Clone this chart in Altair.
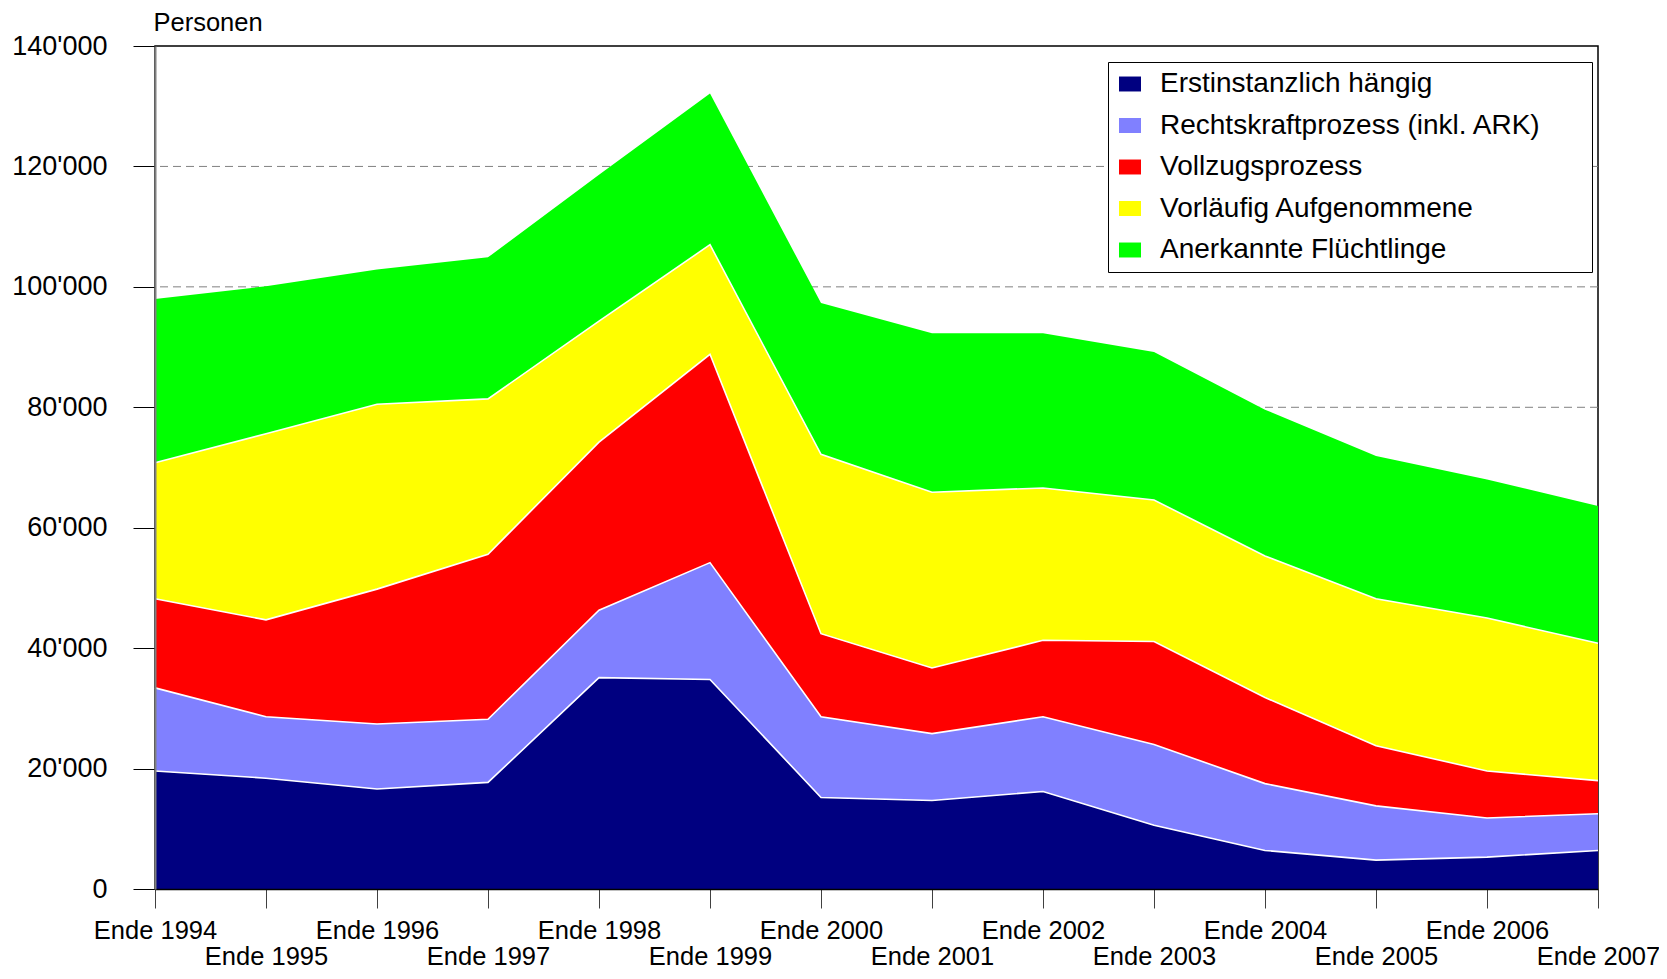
import altair as alt
import pandas as pd

years = ["Ende 1994", "Ende 1995", "Ende 1996", "Ende 1997", "Ende 1998", "Ende 1999",
         "Ende 2000", "Ende 2001", "Ende 2002", "Ende 2003", "Ende 2004", "Ende 2005",
         "Ende 2006", "Ende 2007"]

series = ["Erstinstanzlich hängig", "Rechtskraftprozess (inkl. ARK)", "Vollzugsprozess",
          "Vorläufig Aufgenommene", "Anerkannte Flüchtlinge"]
colors = ["#000080", "#8080FF", "#FF0000", "#FFFF00", "#00FF00"]

erstinstanzlich = [19600, 18400, 16600, 17700, 35100, 34800, 15200, 14700, 16200, 10600, 6400, 4800, 5300, 6400]
rechtskraft = [13800, 10200, 10800, 10500, 11200, 19400, 13400, 11100, 12400, 13400, 11100, 9000, 6500, 6100]
vollzug = [14800, 16100, 22400, 27400, 27900, 34600, 13800, 10900, 12700, 17100, 14300, 10000, 7800, 5500]
vorlaeufig = [22600, 30900, 30700, 25800, 20100, 18200, 29800, 29200, 25300, 23500, 23500, 24400, 25400, 22800]
anerkannt = [27200, 24500, 22400, 23500, 24300, 25100, 25100, 26400, 25700, 24600, 24300, 23700, 23000, 22800]

grid_values = [20000, 40000, 60000, 80000, 100000, 120000]
y_ticks = [0, 20000, 40000, 60000, 80000, 100000, 120000, 140000]

values = [erstinstanzlich, rechtskraft, vollzug, vorlaeufig, anerkannt]
rows = []
for i, (name, vals) in enumerate(zip(series, values)):
    for y, v in zip(years, vals):
        rows.append({"Jahr": y, "Serie": name, "idx": i, "Wert": v})
df = pd.DataFrame(rows)

FONT = "Liberation Sans, Arial, sans-serif"
PAD = "\u2800" * 2

x_enc = alt.X("Jahr:O", sort=years, scale=alt.Scale(type="point", padding=0),
              axis=alt.Axis(title=None, labelAngle=0, labelFontSize=25.5, labelColor="black",
                            labelFont=FONT, tickSize=19, tickColor="#404040", domainColor="black",
                            domainWidth=1.5, labelOverlap=False, labelBound=False, labelFlush=False,
                            labelPadding=10, labelBaseline="top", labelLineHeight=26,
                            labelExpr="toNumber(slice(datum.value, 5)) % 2 == 1 ? ['', datum.label] : datum.label",
                            zindex=1))

y_scale = alt.Scale(domain=[0, 140000], nice=False)

y_axis = alt.Axis(values=y_ticks, grid=False, title="Personen", titleAngle=0,
                  titleAlign="left", titleBaseline="middle", titleX=-2, titleY=-24,
                  titleFont=FONT, titleFontSize=25.5, titleFontWeight="normal",
                  titleColor="black",
                  labelFont=FONT, labelFontSize=27, labelColor="black", labelPadding=26,
                  tickSize=22, tickColor="black", domainColor="#808080", domainWidth=2,
                  labelExpr="replace(format(datum.value, ','), regexp(',', 'g'), \"'\")",
                  zindex=1)

stacked = alt.Chart(df).transform_stack(
    stack="Wert", as_=["y0", "y1"], groupby=["Jahr"],
    sort=[alt.SortField("idx", order="ascending")])

grid = alt.Chart(pd.DataFrame({"g": grid_values})).mark_rule(
    color="#808080", strokeDash=[8, 5], strokeWidth=1).encode(
    y=alt.Y("g:Q", scale=y_scale, axis=y_axis, title="Personen"))

area = stacked.mark_area(opacity=1, strokeWidth=0).encode(
    x=x_enc,
    y=alt.Y("y1:Q", scale=y_scale, axis=y_axis, title="Personen"),
    y2="y0:Q",
    color=alt.Color("Serie:N", sort=series,
                    scale=alt.Scale(domain=series, range=colors),
                    legend=alt.Legend(title=None, orient="none", legendX=953, legendY=16,
                                      direction="vertical",
                                      labelFont=FONT, labelFontSize=28, labelColor="black",
                                      labelLimit=900, labelOffset=16,
                                      labelExpr="datum.label + '" + PAD + "'",
                                      symbolType="M-1,-0.68L1,-0.68L1,0.68L-1,0.68Z",
                                      symbolSize=484, symbolStrokeWidth=0, symbolOpacity=1,
                                      rowPadding=13.5, padding=8,
                                      strokeColor="black", fillColor="white", cornerRadius=0)),
)

lines = stacked.transform_filter("datum.idx < 4").mark_line(
    color="white", strokeWidth=1.6).encode(
    x=x_enc,
    y=alt.Y("y1:Q", scale=y_scale, axis=y_axis, title="Personen"),
    detail="Serie:N",
)

chart = alt.layer(grid, area, lines).properties(
    width=1443, height=843,
    autosize=alt.AutoSizeParams(type="none"),
    padding={"left": 147, "top": 38, "right": 61, "bottom": 81},
    background="white",
).configure_view(stroke="black", strokeWidth=1.5)

chart.save("out.html", embed_options={"renderer": "svg", "actions": False})
